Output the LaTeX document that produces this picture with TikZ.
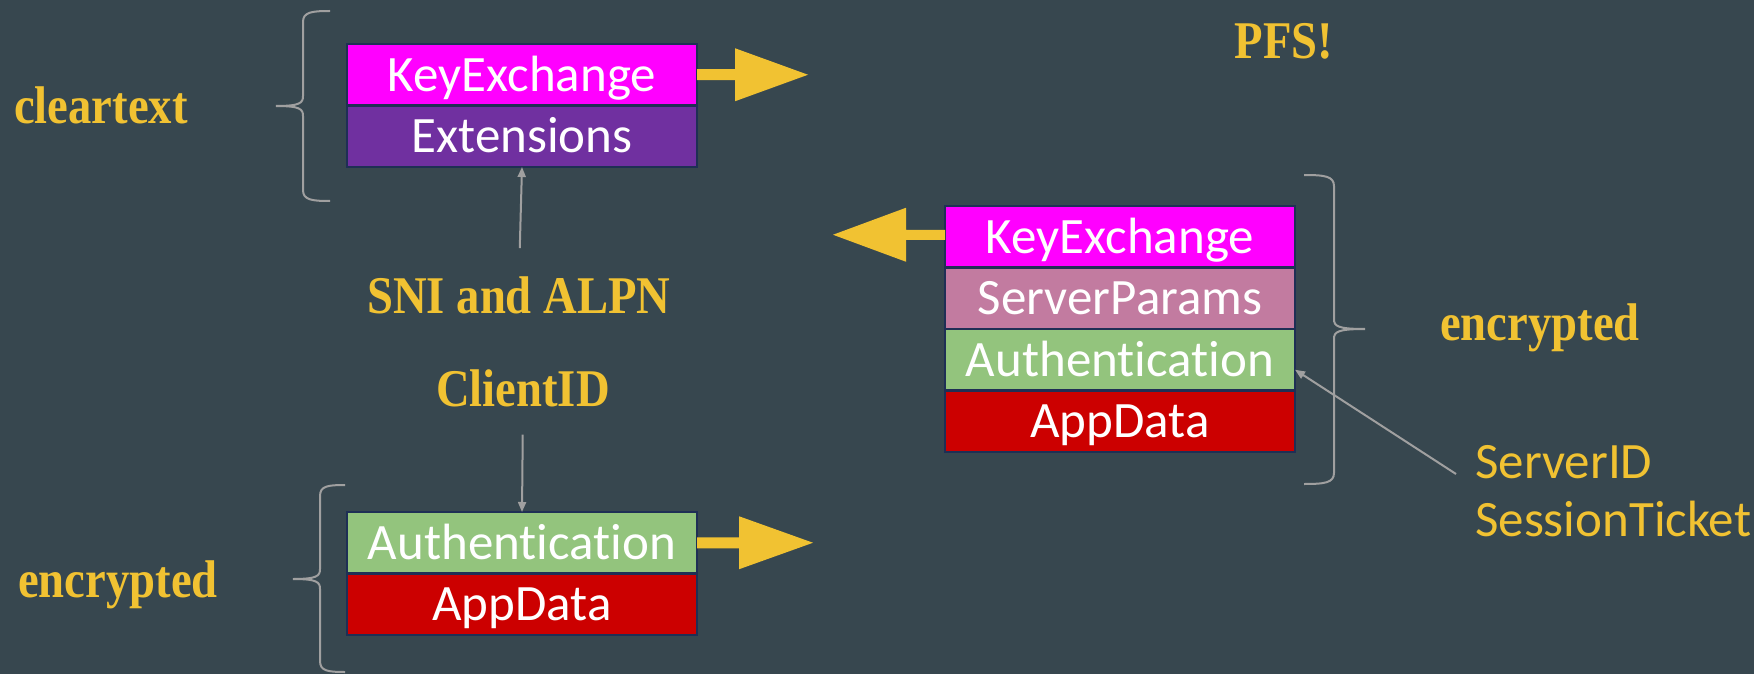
\documentclass[tikz,border=0pt]{standalone}
\usepackage{fontspec}
\newfontfamily\boxfont[Ligatures=NoCommon]{Carlito}
\newfontfamily\labfont[FakeStretch=0.88]{Liberation Serif}
\usetikzlibrary{arrows.meta,calc}
\definecolor{bg}{HTML}{37474F}
\definecolor{yel}{HTML}{F1C232}
\definecolor{navy}{HTML}{1F2F55}
\definecolor{kex}{HTML}{FF00FF}
\definecolor{purp}{HTML}{7030A0}
\definecolor{spar}{HTML}{C27BA0}
\definecolor{auth}{HTML}{93C47D}
\definecolor{appd}{HTML}{CC0000}
\definecolor{gry}{HTML}{A0A0A0}
\tikzset{
  row/.style={draw=navy, line width=2.5pt, minimum width=350pt, minimum height=61.5pt,
    inner sep=0pt, outer sep=0pt, text=white, text height=33pt, text depth=0pt,
    font=\boxfont\fontsize{51}{60}\selectfont, anchor=north west},
  ylab/.style={text=yel, inner sep=0pt, font=\labfont\bfseries\fontsize{53}{60}\selectfont},
  slab/.style={text=yel, inner sep=0pt, font=\boxfont\fontsize{51}{58}\selectfont},
  garrow/.style={draw=gry, line width=2pt, -{Triangle[length=10pt,width=8pt]}},
  bracestyle/.style={draw=gry, line width=2pt},
  blockarrow/.style={fill=yel}
}
\begin{document}
\begin{tikzpicture}[x=1pt,y=-1pt]
\fill[bg] (0,0) rectangle (1754,674);
\useasboundingbox (0,0) rectangle (1754,674);

% top-left box
\node[row, fill=kex] (ke1) at (347,44) {KeyExchange};
\node[row, fill=purp] (ext) at (ke1.south west) {Extensions};

% bottom-left box
\node[row, fill=auth] (auth1) at (347,512) {Authentication};
\node[row, fill=appd] (app1) at (auth1.south west) {AppData};

% right box
\node[row, fill=kex] (ke2) at (945,206) {KeyExchange};
\node[row, fill=spar] (sp) at (ke2.south west) {ServerParams};
\node[row, fill=auth] (auth2) at (sp.south west) {Authentication};
\node[row, fill=appd] (app2) at (auth2.south west) {AppData};

% labels
\node[ylab, anchor=base west] (clear) at (14,124) {cleartext};
\node[ylab, anchor=base west] (encl) at (18,597) {encrypted};
\node[ylab, anchor=base] (sni) at (519,313) {SNI and ALPN};
\node[ylab, anchor=base] (cid) at (523,406) {ClientID};
\node[ylab, anchor=base] (pfs) at (1284,59) {PFS!};
\node[ylab, anchor=base west] (encr) at (1440,340) {encrypted};
\node[slab, anchor=base west] (sid) at (1475,478) {ServerID};
\node[slab, anchor=base west] (stk) at (1475,536) {SessionTicket};

% block arrows
\coordinate (tA) at ($(ke1.east)+(111,0)$);
\fill[blockarrow] ($(ke1.east)+(0,-5.5)$) -- ($(tA)+(-73,-5.5)$) -- ($(tA)+(-73,-26.5)$) -- (tA)
  -- ($(tA)+(-73,26.5)$) -- ($(tA)+(-73,5.5)$) -- ($(ke1.east)+(0,5.5)$) -- cycle;
\coordinate (tB) at ($(ke2.west)+(-112,-2)$);
\fill[blockarrow] ($(ke2.west)+(0,-7)$) -- ($(tB)+(73,-5)$) -- ($(tB)+(73,-27)$) -- (tB)
  -- ($(tB)+(73,27)$) -- ($(tB)+(73,5)$) -- ($(ke2.west)+(0,3)$) -- cycle;
\coordinate (tC) at ($(auth1.east)+(116,0)$);
\fill[blockarrow] ($(auth1.east)+(0,-5.5)$) -- ($(tC)+(-74,-5.5)$) -- ($(tC)+(-74,-26.5)$) -- (tC)
  -- ($(tC)+(-74,26.5)$) -- ($(tC)+(-74,5.5)$) -- ($(auth1.east)+(0,5.5)$) -- cycle;

% thin arrows
\draw[garrow, shorten <=28pt] (sni.north) -- (ext.south);
\draw[garrow, shorten <=28pt] (cid.south) -- (auth1.north);
\draw[garrow] ($(sid.base west)+(-19,-4)$) -- ($(auth2.east)+(0,10)$);

% braces
\draw[bracestyle] (330,11) .. controls (312,11) and (303,12) .. (303,22) -- (303,96)
  .. controls (303,103) and (300,106) .. (276,106) .. controls (300,106) and (303,109) .. (303,116)
  -- (303,190) .. controls (303,200) and (312,201) .. (330,201);
\draw[bracestyle] (345,485) .. controls (328,485) and (320,486) .. (320,496) -- (320,569)
  .. controls (320,576) and (317,579) .. (293,579) .. controls (317,579) and (320,582) .. (320,589)
  -- (320,661) .. controls (320,671) and (328,672) .. (345,672);
\draw[bracestyle] (1304,175) .. controls (1324,175) and (1334,176) .. (1334,186) -- (1334,319)
  .. controls (1334,326) and (1337,329) .. (1365,329) .. controls (1337,329) and (1334,332) .. (1334,339)
  -- (1334,473) .. controls (1334,483) and (1324,484) .. (1304,484);
\end{tikzpicture}
\end{document}
